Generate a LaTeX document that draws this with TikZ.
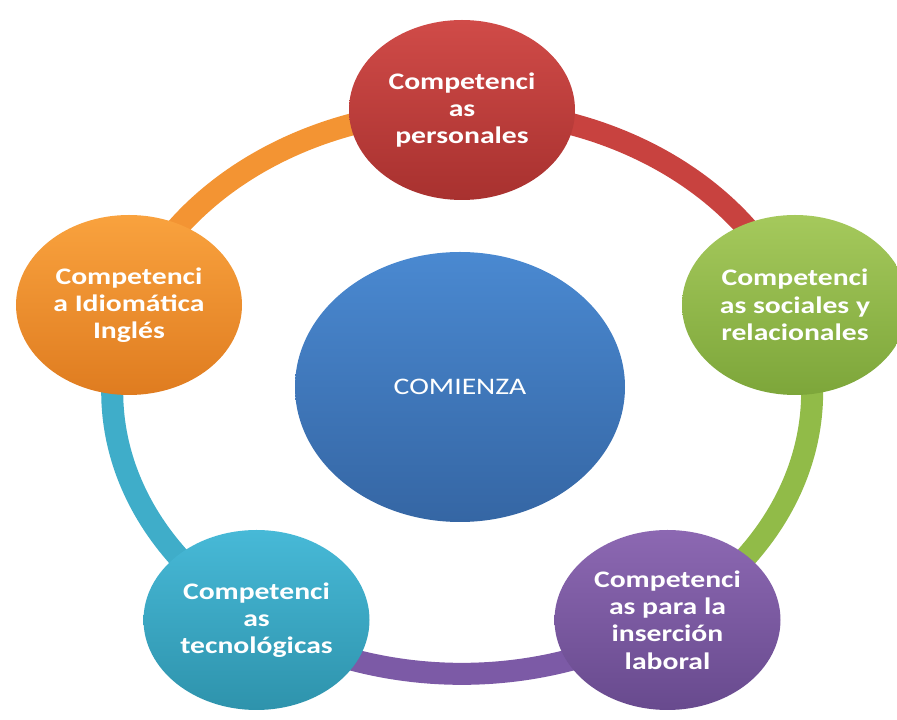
\documentclass[tikz,border=0pt]{standalone}
\usepackage{fontspec}
\usetikzlibrary{shapes.geometric,backgrounds}
\newfontfamily\compfont{Carlito}[FakeStretch=1.25]

\definecolor{rojoT}{HTML}{D04B48}
\definecolor{rojoB}{HTML}{A8312F}
\definecolor{verdeT}{HTML}{A5C95C}
\definecolor{verdeB}{HTML}{7DA63A}
\definecolor{moradoT}{HTML}{8C68B2}
\definecolor{moradoB}{HTML}{684A8E}
\definecolor{cianT}{HTML}{47B9D7}
\definecolor{cianB}{HTML}{2E93AC}
\definecolor{naranjaT}{HTML}{F9A23E}
\definecolor{naranjaB}{HTML}{DF7C20}
\definecolor{azulT}{HTML}{4A89D1}
\definecolor{azulB}{HTML}{3566A4}
\definecolor{rojo}{HTML}{C8423F}
\definecolor{verde}{HTML}{91BB48}
\definecolor{morado}{HTML}{7C5AA6}
\definecolor{cian}{HTML}{3FADC9}
\definecolor{naranja}{HTML}{F39433}

\begin{document}
\begin{tikzpicture}[
  comp/.style={ellipse, inner sep=0pt, minimum width=4.52cm, minimum height=3.6cm,
    align=center, text=white, font=\compfont\bfseries\fontsize{13.5}{15.5}\selectfont},
  ringseg/.style={line width=0.44cm}
]
\useasboundingbox (0,0) rectangle (17.94,14.4);
\node[ellipse, inner sep=0pt, minimum width=6.6cm, minimum height=5.4cm, top color=azulT, bottom color=azulB,
  text=white, font=\compfont\fontsize{13.5}{15.5}\selectfont](com) at (9.2,6.66){COMIENZA};
\node[comp, top color=rojoT, bottom color=rojoB](per) at (9.24,12.2){Competenci\\as\\personales};
\node[comp, top color=verdeT, bottom color=verdeB](soc) at (15.9,8.3){Competenci\\as sociales y\\relacionales};
\node[comp, top color=moradoT, bottom color=moradoB](lab) at (13.35,2.0){Competenci\\as para la\\inserción\\laboral};
\node[comp, top color=cianT, bottom color=cianB](tec) at (5.13,2.0){Competenci\\as\\tecnológicas};
\node[comp, top color=naranjaT, bottom color=naranjaB](ing) at (2.58,8.3){Competenci\\a Idiomática\\Inglés};
% ring behind the circles
\begin{scope}[on background layer]
\draw[ringseg, rojo] (per.center) arc[start angle=90, end angle=18, x radius=7cm, y radius=5.64cm];
\draw[ringseg, verde] (soc.center) arc[start angle=18, end angle=-54, x radius=7cm, y radius=5.64cm];
\draw[ringseg, morado] (lab.center) arc[start angle=-54, end angle=-126, x radius=7cm, y radius=5.64cm];
\draw[ringseg, cian] (tec.center) arc[start angle=-126, end angle=-198, x radius=7cm, y radius=5.64cm];
\draw[ringseg, naranja] (ing.center) arc[start angle=162, end angle=90, x radius=7cm, y radius=5.64cm];
\end{scope}
\end{tikzpicture}
\end{document}
